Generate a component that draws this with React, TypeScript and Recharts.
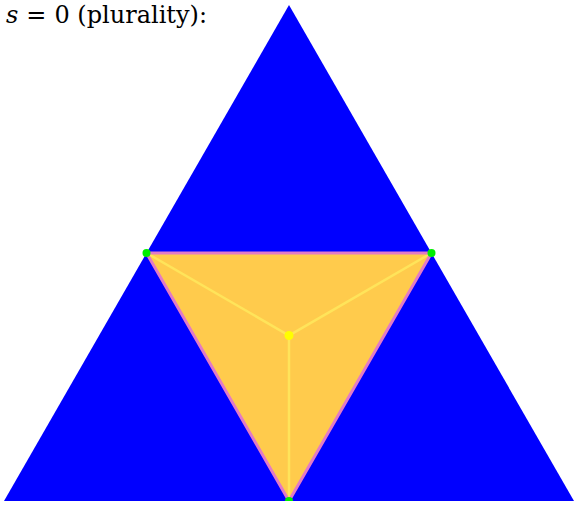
import { ComposedChart, Area, Scatter, XAxis, YAxis } from "recharts";

// ---- Data (simplex coordinates, x across, y up) ----
const xs = [0, 0.25, 0.5, 0.75, 1];
const outerHeight = [0, 0.433, 0.866, 0.433, 0];
const innerLow = [null, 0.433, 0, 0.433, null];
const innerHigh = [null, 0.433, 0.433, 0.433, null];

const innerVertices = [
  { x: 0.25, y: 0.433 },
  { x: 0.75, y: 0.433 },
  { x: 0.5, y: 0 },
];
const centre = [{ x: 0.5, y: 0.289 }];

const rows = xs.map((x, i) => ({
  x,
  outer: outerHeight[i],
  inner: innerLow[i] === null ? null : [innerLow[i], innerHigh[i]],
}));

// closed outline and spokes, walked in order
const outline = [...innerVertices, innerVertices[0]];
const spokes = [innerVertices[0], centre[0], innerVertices[1], centre[0], innerVertices[2]];

const hidden = () => <g />;

export default function App() {
  return (
    <div style={{ position: "absolute", left: 0, top: 0, width: 574, height: 506 }}>
      <div
        style={{
          position: "absolute",
          left: 6,
          top: 1,
          fontFamily: "'DejaVu Serif', serif",
          fontSize: 24,
          color: "#000",
          whiteSpace: "nowrap",
          zIndex: 1,
        }}
      >
        <i>s</i>
        <span style={{ margin: "0 8px" }}>=</span>0 (plurality):
      </div>
      <ComposedChart
        width={574}
        height={506}
        data={rows}
        margin={{ top: 5, right: 0, bottom: 5, left: 4 }}
      >
        <XAxis type="number" dataKey="x" domain={[0, 1]} hide allowDataOverflow />
        <YAxis type="number" dataKey="y" domain={[0, 0.866]} hide allowDataOverflow />
        <Area
          type="linear"
          dataKey="outer"
          fill="#0000ff"
          fillOpacity={1}
          stroke="none"
          isAnimationActive={false}
        />
        <Area
          type="linear"
          dataKey="inner"
          fill="#ffcb4c"
          fillOpacity={1}
          stroke="none"
          isAnimationActive={false}
        />
        <Scatter
          data={spokes}
          line={{ stroke: "#ffe45a", strokeWidth: 2.5 }}
          shape={hidden}
          isAnimationActive={false}
        />
        <Scatter
          data={outline}
          line={{ stroke: "#e27ac6", strokeWidth: 3 }}
          shape={hidden}
          isAnimationActive={false}
        />
        <Scatter
          data={innerVertices}
          shape={(p: any) => <circle cx={p.cx} cy={p.cy} r={4} fill="#00ee00" />}
          isAnimationActive={false}
        />
        <Scatter
          data={centre}
          shape={(p: any) => <circle cx={p.cx} cy={p.cy} r={4.5} fill="#ffff00" />}
          isAnimationActive={false}
        />
      </ComposedChart>
    </div>
  );
}
